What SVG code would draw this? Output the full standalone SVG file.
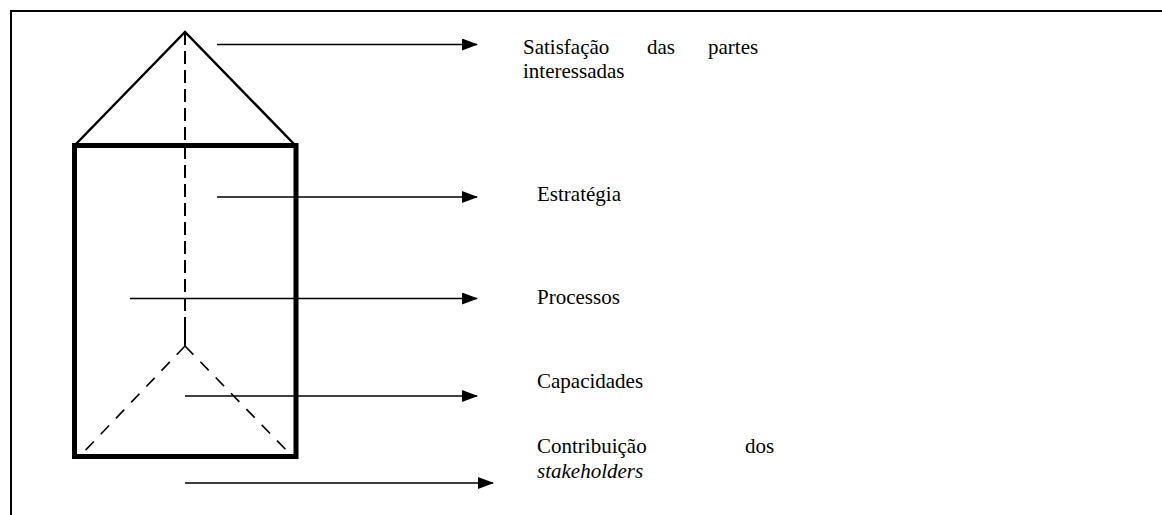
<svg xmlns="http://www.w3.org/2000/svg" width="1162" height="515" viewBox="0 0 1162 515">
<defs>
<style>
.frame{fill:none;stroke:#000;stroke-width:2}
.tri{fill:none;stroke:#000;stroke-width:2.5}
.box{fill:none;stroke:#000;stroke-width:5}
.vdash{stroke:#000;stroke-width:2;stroke-dasharray:13 6}
.ddash{stroke:#000;stroke-width:1.6;stroke-dasharray:12 10}
.arr{stroke:#000;stroke-width:1.5;fill:none;marker-end:url(#ah)}
text{font-family:"Liberation Serif","Times New Roman",serif;font-size:21px;fill:#000}
</style>
<marker id="ah" viewBox="0 0 16 12" refX="15" refY="6" markerWidth="16" markerHeight="12" markerUnits="userSpaceOnUse" orient="auto">
<path d="M0,0 L16,6 L0,12 Z" fill="#000"/>
</marker>
</defs>
<rect x="11" y="11" width="1170" height="520" class="frame"/>
<g id="prism">
<polyline class="tri" points="75,145 185,32 295,145"/>
<rect class="box" x="74.5" y="145.5" width="221.5" height="311"/>
<line class="vdash" x1="185" y1="32" x2="185" y2="330"/>
<line x1="185" y1="328" x2="185" y2="346" stroke="#000" stroke-width="2"/>
<line class="ddash" x1="185" y1="346" x2="80" y2="456"/>
<line class="ddash" x1="185" y1="346" x2="292" y2="456"/>
</g>
<g id="connectors">
<line class="arr" x1="217" y1="44.5" x2="477" y2="44.5"/>
<line class="arr" x1="217" y1="197" x2="477" y2="197"/>
<line class="arr" x1="130" y1="298.5" x2="477" y2="298.5"/>
<line class="arr" x1="185" y1="396" x2="477" y2="396"/>
<line class="arr" x1="185" y1="483" x2="493" y2="483"/>
</g>
<g id="label-satisfacao">
<text x="523" y="54">Satisfação</text>
<text x="647" y="54">das</text>
<text x="708" y="54">partes</text>
<text x="523" y="78">interessadas</text>
</g>
<g id="label-estrategia"><text x="537" y="201">Estratégia</text></g>
<g id="label-processos"><text x="537" y="304">Processos</text></g>
<g id="label-capacidades"><text x="537" y="388">Capacidades</text></g>
<g id="label-contribuicao">
<text x="537" y="453">Contribuição</text>
<text x="745" y="453">dos</text>
<text x="537" y="478" font-style="italic">stakeholders</text>
</g>
</svg>
